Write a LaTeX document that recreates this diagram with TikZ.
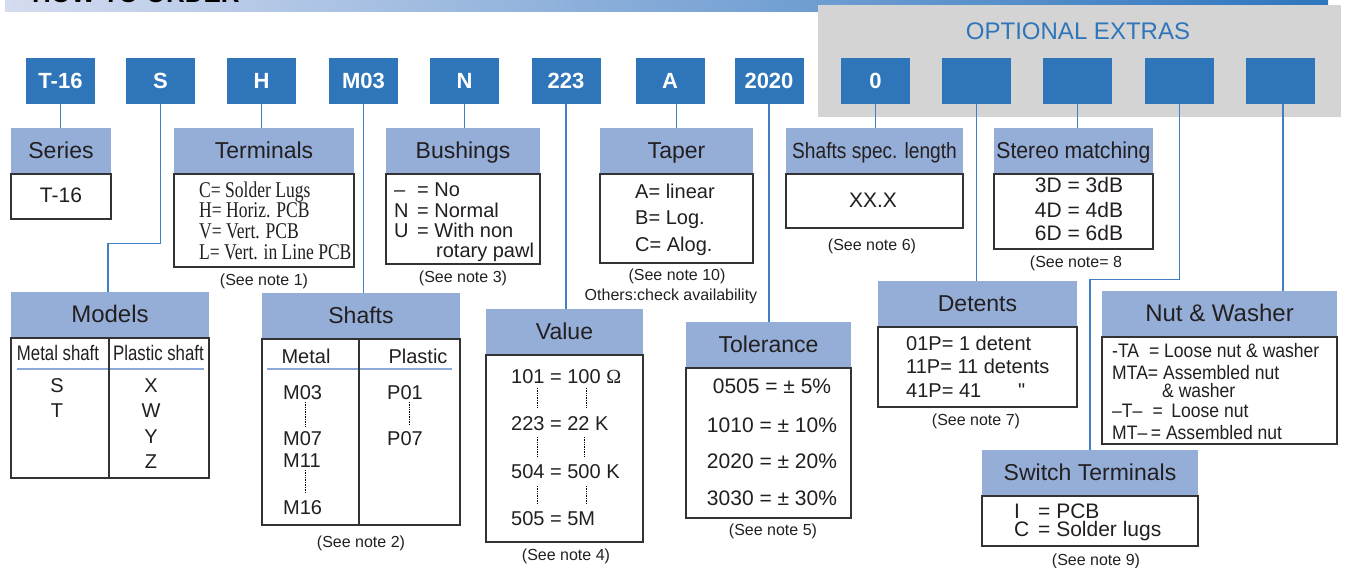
\documentclass[tikz,border=0pt]{standalone}
\usepackage{fontspec}
\usepackage{graphicx}
\setmainfont{Liberation Sans}
\newfontfamily\serifb{Liberation Serif}
\definecolor{topblue}{HTML}{2E75B9}
\definecolor{hdrblue}{HTML}{95AED8}
\definecolor{connblue}{HTML}{3F7FC3}
\definecolor{optgray}{HTML}{D4D4D4}
\definecolor{txt}{HTML}{231F20}
\definecolor{rulec}{HTML}{8EAADB}
\tikzset{
 topbox/.style={fill=topblue, text=white, font=\fontsize{22}{26}\selectfont\bfseries, minimum width=69pt, minimum height=46pt, inner sep=0pt, text height=15.7pt, text depth=0pt},
 hdr/.style={fill=hdrblue, text=txt, font=\fontsize{23}{27}\selectfont, minimum height=45pt, inner sep=0pt, text height=16.5pt, text depth=0pt},
 bodybox/.style={draw=black!80, line width=1.2pt, fill=white, inner sep=0pt},
 conn/.style={draw=connblue, line width=1.3pt},
 txtn/.style={text=txt, inner sep=0pt, anchor=base west, font=\fontsize{20}{24}\selectfont},
 txtc/.style={text=txt, inner sep=0pt, anchor=base, font=\fontsize{21}{24}\selectfont},
 sertxt/.style={text=txt, inner sep=0pt, anchor=base west, font=\serifb\fontsize{22.5}{25}\selectfont},
 nuttxt/.style={text=txt, inner sep=0pt, anchor=base west, font=\fontsize{19.5}{22}\selectfont},
 note/.style={text=txt, inner sep=0pt, anchor=base, font=\fontsize{16}{19}\selectfont},
 dotl/.style={draw=black, line width=0.7pt, densely dotted},
 rulel/.style={draw=rulec, line width=1.5pt},
 divl/.style={draw=black!80, line width=1.2pt},
}
\newcommand\ordbox[6]{%
 \node[hdr, minimum width=#3pt, anchor=north] (#1h) at (#2,#4) {#6};
 \node[bodybox, minimum width=#3pt, minimum height=#5pt, anchor=north] (#1b) at (#1h.south) {};
}
\begin{document}
\begin{tikzpicture}[x=1pt,y=-1pt]
\useasboundingbox (0,0) rectangle (1345,568);
\clip (0,0) rectangle (1345,568);
% banner
\shade[left color={rgb,255:red,213;green,220;blue,240}, middle color={rgb,255:red,157;green,177;blue,220}, right color={rgb,255:red,46;green,118;blue,190}] (5,-5) rectangle (1328,11);
\node[anchor=base west, font=\fontsize{26}{30}\selectfont\bfseries, text=black, inner sep=0pt] (title) at (32,2) {HOW TO ORDER};
% optional extras
\fill[optgray] (818,5) rectangle (1341,117);
\node[anchor=base, font=\fontsize{24}{28}\selectfont, text=topblue, inner sep=0pt] (opt) at (1078,39) {OPTIONAL EXTRAS};
% top code boxes
\node[topbox] (t1) at (60.5,81) {T-16};
\node[topbox] (t2) at (160.5,81) {S};
\node[topbox] (t3) at (261.5,81) {H};
\node[topbox] (t4) at (363.5,81) {M03};
\node[topbox] (t5) at (464.5,81) {N};
\node[topbox] (t6) at (566,81) {223};
\node[topbox] (t7) at (670,81) {A};
\node[topbox] (t8) at (769,81) {2020};
\node[topbox] (t9) at (875.5,81) {0};
\node[topbox] (t10) at (976.5,81) {};
\node[topbox] (t11) at (1077.5,81) {};
\node[topbox] (t12) at (1179.5,81) {};
\node[topbox] (t13) at (1280.5,81) {};
% boxes
\ordbox{se}{61}{100}{128}{45}{Series}
\ordbox{te}{264}{180}{128}{93}{Terminals}
\ordbox{bu}{463}{154}{128}{90}{Bushings}
\ordbox{ta}{676.5}{153}{128}{89}{Taper}
\ordbox{ss}{874.5}{177}{128}{54}{\scalebox{0.87}[1]{\fontsize{22}{26}\selectfont Shafts spec. length}}
\ordbox{st}{1073.5}{159}{128}{75}{\scalebox{0.92}[1]{Stereo matching}}
\ordbox{mo}{110}{198}{292}{140}{\fontsize{24}{28}\selectfont Models}
\ordbox{sh}{361}{198}{293}{186}{Shafts}
\ordbox{va}{564.5}{157}{309}{187}{Value}
\ordbox{to}{768.5}{165}{322}{150}{Tolerance}
\ordbox{de}{977.5}{199}{281}{80}{Detents}
\ordbox{nu}{1219.5}{235}{291}{107}{\fontsize{24}{28}\selectfont Nut \& Washer}
\ordbox{sw}{1090}{216}{450}{50}{Switch Terminals}
% connectors
\draw[conn] (t1.south) -- (t1.south |- seh.north);
\draw[conn] (t2.south) -- ++(0,139) -| ([xshift=-2pt]moh.north);
\draw[conn] (t3.south) -- (t3.south |- teh.north);
\draw[conn] (t4.south) -- (t4.south |- shh.north);
\draw[conn] (t5.south) -- (t5.south |- buh.north);
\draw[conn] (t6.south) -- (t6.south |- vah.north);
\draw[conn] (t7.south -| tah.north) -- (tah.north);
\draw[conn] (t8.south) -- (t8.south |- toh.north);
\draw[conn] (t9.south) -- (t9.south |- ssh.north);
\draw[conn] (t10.south) -- (t10.south |- deh.north);
\draw[conn] (t11.south) -- (t11.south |- sth.north);
\draw[conn] (t12.south) -- ++(0,175) -| (swh.north);
\draw[conn] ([xshift=2.5pt]t13.south) -- ([xshift=2.5pt]t13.south |- nuh.north);
% Series
\node[txtc, font=\fontsize{21}{24}\selectfont] (se1) at (61,202) {T-16};
% Terminals
\node[sertxt] (te1) at (199,197) {\scalebox{0.78}[1]{C= Solder Lugs}};
\node[sertxt] (te2) at (199,217) {\scalebox{0.78}[1]{H= Horiz. PCB}};
\node[sertxt] (te3) at (199,238) {\scalebox{0.78}[1]{V= Vert. PCB}};
\node[sertxt] (te4) at (199,259) {\scalebox{0.78}[1]{L= Vert. in Line PCB}};
\node[note] (ten) at (264,285) {(See note 1)};
% Bushings
\node[txtn] (bu1) at (394,196) {\makebox[23pt][l]{–}= No};
\node[txtn] (bu2) at (394,217) {\makebox[23pt][l]{N}= Normal};
\node[txtn] (bu3) at (394,237) {\makebox[23pt][l]{U}= With non};
\node[txtn] (bu4) at (436,257) {rotary pawl};
\node[note] (bun) at (463,282) {(See note 3)};
% Taper
\node[txtn] (ta1) at (635,198) {A= linear};
\node[txtn] (ta2) at (635,224) {B= Log.};
\node[txtn] (ta3) at (635,251) {C= Alog.};
\node[note] (tan) at (677,280) {(See note 10)};
\node[note] (tan2) at (671,300) {Others:check availability};
% Shafts spec length
\node[txtc] (ss1) at (873,207) {XX.X};
\node[note] (ssn) at (872,250) {(See note 6)};
% Stereo
\node[txtc] (st1) at (1079,192) {3D = 3dB};
\node[txtc] (st2) at (1079,217) {4D = 4dB};
\node[txtc] (st3) at (1079,240) {6D = 6dB};
\node[note] (stn) at (1076,267) {(See note= 8};
% Models
\draw[rulel] (17,369) -- (204,369);
\draw[divl] (109,337) -- (109,477);
\node[txtc] (mo1) at (58,360) {\scalebox{0.8}[1]{Metal shaft}};
\node[txtc] (mo2) at (158.5,360) {\scalebox{0.8}[1]{Plastic shaft}};
\node[txtc, font=\fontsize{20}{24}\selectfont] (mo3) at (57,392) {S};
\node[txtc, font=\fontsize{20}{24}\selectfont] (mo4) at (57,417) {T};
\node[txtc, font=\fontsize{20}{24}\selectfont] (mo5) at (151,392) {X};
\node[txtc, font=\fontsize{20}{24}\selectfont] (mo6) at (151,417) {W};
\node[txtc, font=\fontsize{20}{24}\selectfont] (mo7) at (151,443) {Y};
\node[txtc, font=\fontsize{20}{24}\selectfont] (mo8) at (151,468) {Z};
% Shafts
\draw[rulel] (267,369) -- (452,369);
\draw[divl] (359,339) -- (359,524);
\node[txtc, font=\fontsize{20}{24}\selectfont] (sh1) at (306,363) {Metal};
\node[txtc, font=\fontsize{20}{24}\selectfont] (sh2) at (418,363) {Plastic};
\node[txtn] (sh3) at (283,399) {M03};
\node[txtn] (sh4) at (283,445) {M07};
\node[txtn] (sh5) at (283,467) {M11};
\node[txtn] (sh6) at (283,514) {M16};
\node[txtn] (sh7) at (387,399) {P01};
\node[txtn] (sh8) at (387,445) {P07};
\draw[dotl] (305,402) -- (305,427);
\draw[dotl] (305,470) -- (305,493);
\draw[dotl] (409,402) -- (409,425);
\node[note] (shn) at (361,547) {(See note 2)};
% Value
\node[txtn] (va1) at (511,383) {101 = 100 {\serifb Ω}};
\node[txtn] (va2) at (511,430) {223 = 22 K};
\node[txtn] (va3) at (511,478) {504 = 500 K};
\node[txtn] (va4) at (511,525) {505 = 5M};
\draw[dotl] (537,388) -- (537,407);
\draw[dotl] (586,388) -- (586,407);
\draw[dotl] (537,437) -- (537,456);
\draw[dotl] (584,437) -- (584,456);
\draw[dotl] (537,486) -- (537,504);
\draw[dotl] (586,486) -- (586,504);
\node[note] (van) at (566,560) {(See note 4)};
% Tolerance
\node[txtc] (to1) at (772,393) {0505 = ± 5\%};
\node[txtc] (to2) at (772,432) {1010 = ± 10\%};
\node[txtc] (to3) at (772,468) {2020 = ± 20\%};
\node[txtc] (to4) at (772,505) {3030 = ± 30\%};
\node[note] (ton) at (773,535) {(See note 5)};
% Detents
\node[txtn] (de1) at (906,350) {01P= 1 detent};
\node[txtn] (de2) at (906,373) {11P= 11 detents};
\node[txtn] (de3) at (906,397) {41P= 41};
\node[txtn] (de4) at (1018,397) {\textquotedbl};
\node[note] (den) at (976,425) {(See note 7)};
% Nut & Washer
\node[nuttxt] (nu1) at (1112,357) {\scalebox{0.9}[1]{\makebox[41pt][l]{-TA}= Loose nut \& washer}};
\node[nuttxt] (nu2) at (1112,379) {\scalebox{0.9}[1]{MTA= Assembled nut}};
\node[nuttxt] (nu3) at (1162,397) {\scalebox{0.9}[1]{\& washer}};
\node[nuttxt] (nu4) at (1112,417) {\scalebox{0.9}[1]{\makebox[45pt][l]{–T–}= \hspace{4pt}Loose nut}};
\node[nuttxt] (nu5) at (1112,439) {\scalebox{0.9}[1]{\makebox[43pt][l]{MT–}= Assembled nut}};
% Switch terminals
\node[txtn, font=\fontsize{21}{24}\selectfont] (sw1) at (1014,518) {\makebox[24pt][l]{I}= PCB};
\node[txtn, font=\fontsize{21}{24}\selectfont] (sw2) at (1014,536) {\makebox[24pt][l]{C}= Solder lugs};
\node[note] (swn) at (1096,565) {(See note 9)};
\end{tikzpicture}
\end{document}
